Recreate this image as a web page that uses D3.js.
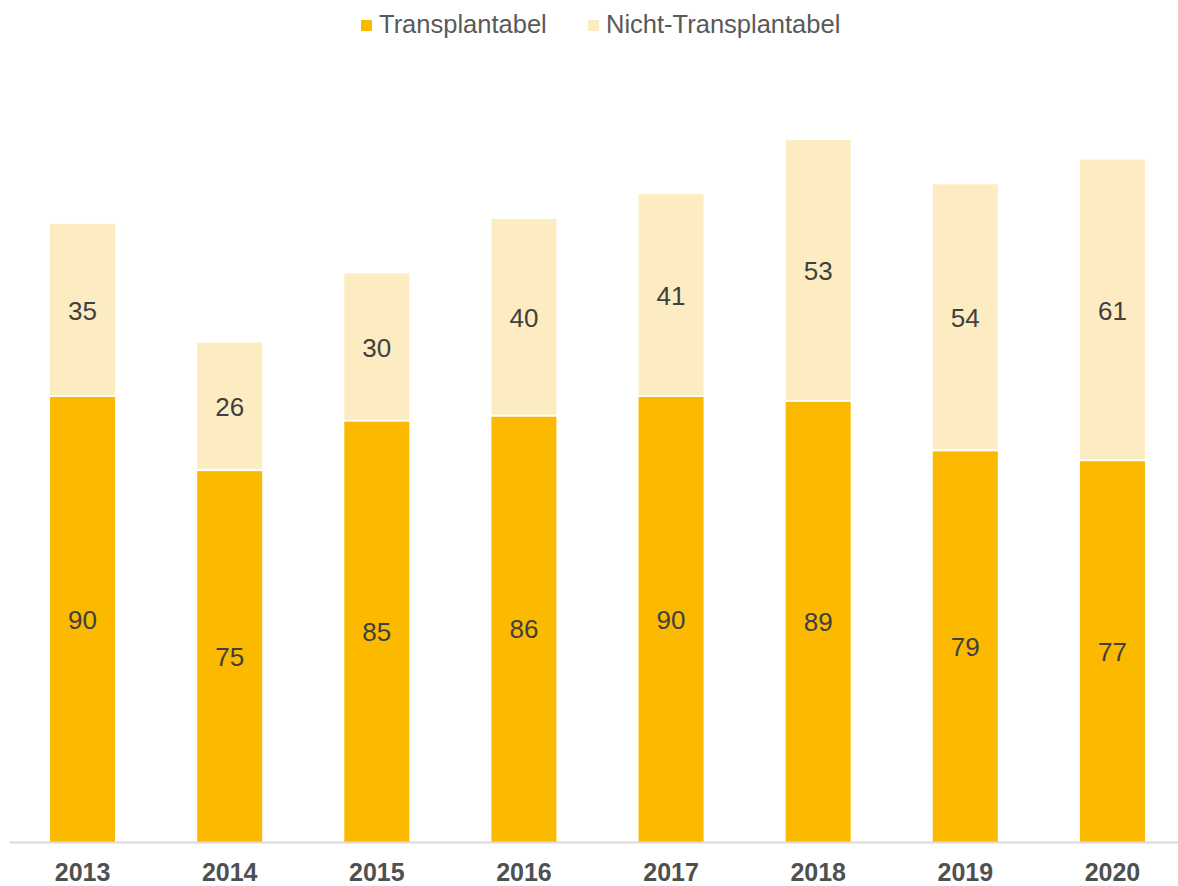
<!DOCTYPE html>
<html>
<head>
<meta charset="utf-8">
<script src="https://cdn.jsdelivr.net/npm/d3@7"></script>
<style>
  body { margin: 0; background: #fff; }
  svg { display: block; font-family: "Liberation Sans", Arial, sans-serif; }
</style>
</head>
<body>
<svg id="chart" width="1178" height="886"></svg>
<script>
// data
var years = ["2013", "2014", "2015", "2016", "2017", "2018", "2019", "2020"];
var transplantabel = [90, 75, 85, 86, 90, 89, 79, 77];
var nichtTransplantabel = [35, 26, 30, 40, 41, 53, 54, 61];
var seriesNames = ["Transplantabel", "Nicht-Transplantabel"];
var seriesColors = ["#fbba00", "#fdecc1"];

var svg = d3.select("#chart");

var rows = years.map(function(y, i){
	return { year: y, t: transplantabel[i], n: nichtTransplantabel[i] };
});

var stack = d3.stack().keys(["t", "n"]);
var layers = stack(rows);

var x = d3.scaleBand()
	.domain(years)
	.range([9, 1186])
	.paddingInner(0.558)
	.paddingOuter(0.279);

var y = d3.scaleLinear()
	.domain([0, 140])
	.range([842, 842 - 140 * 4.945]);

// bars
var layer = svg.append("g")
	.selectAll("g")
	.data(layers)
	.enter().append("g")
	.attr("fill", function(d, i){ return seriesColors[i]; });

layer.selectAll("rect")
	.data(function(d){ return d.map(function(p){ p.key = d.key; return p; }); })
	.enter().append("rect")
	.attr("x", function(d){ return x(d.data.year); })
	.attr("width", x.bandwidth())
	.attr("y", function(d){ return y(d[1]); })
	.attr("height", function(d){
		// small white gap between the two segments
		var h = y(d[0]) - y(d[1]);
		return d.key == "n" ? h - 2 : h;
	});

// value labels
layer.selectAll("text")
	.data(function(d){ return d; })
	.enter().append("text")
	.attr("x", function(d){ return x(d.data.year) + x.bandwidth() / 2; })
	.attr("y", function(d){ return (y(d[0]) + y(d[1])) / 2; })
	.attr("dy", "0.35em")
	.attr("text-anchor", "middle")
	.attr("font-size", 26)
	.attr("fill", "#404040")
	.text(function(d){ return d[1] - d[0]; });

// x axis
var axis = svg.append("g")
	.attr("transform", "translate(0,842)")
	.call(d3.axisBottom(x).tickSize(0).tickPadding(0));

axis.select(".domain")
	.attr("stroke", "#d9d9d9")
	.attr("stroke-width", 2);

axis.selectAll("text")
	.attr("y", 39)
	.attr("dy", null)
	.attr("font-family", "Liberation Sans, Arial, sans-serif")
	.attr("font-size", 25)
	.attr("font-weight", "bold")
	.attr("fill", "#505050");

// legend
var legendX = [361, 588];
var legend = svg.append("g")
	.selectAll("g")
	.data(seriesNames)
	.enter().append("g")
	.attr("transform", function(d, i){ return "translate(" + legendX[i] + ",0)"; });

legend.append("rect")
	.attr("x", 0)
	.attr("y", 20)
	.attr("width", 11)
	.attr("height", 11)
	.attr("fill", function(d, i){ return seriesColors[i]; });

legend.append("text")
	.attr("x", 18)
	.attr("y", 33)
	.attr("font-size", 25.5)
	.attr("fill", "#595959")
	.text(function(d){ return d; });
</script>
</body>
</html>
